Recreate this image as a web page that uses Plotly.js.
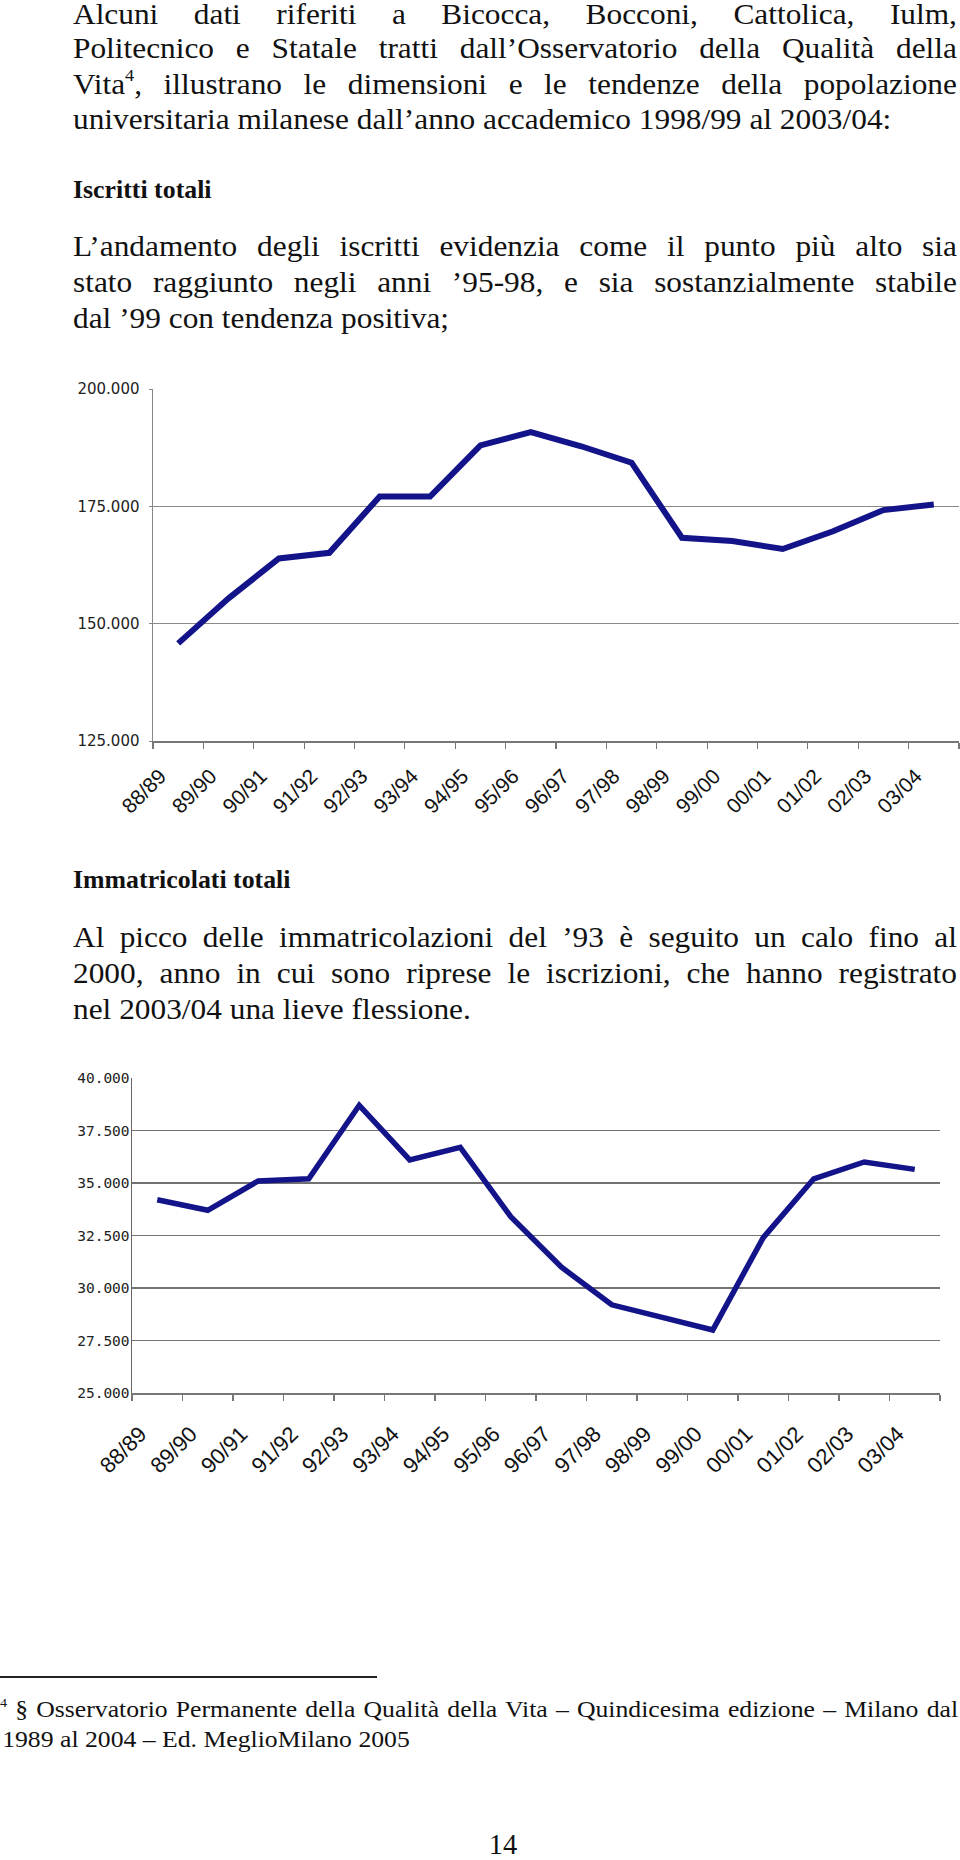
<!DOCTYPE html>
<html>
<head>
<meta charset="utf-8">
<script src="https://cdn.plot.ly/plotly-3.0.1.min.js"></script>
<style>
  html, body { margin: 0; padding: 0; background: #fff; }
  #page { position: relative; width: 960px; height: 1860px; overflow: hidden; background: #fff; }
  .txt { position: absolute; left: 72.5px; font-family: "Liberation Serif", "Times New Roman", serif; color: #111; transform-origin: 0 0; }
  .body { width: 803.6px; font-size: 28.5px; line-height: 35.7px; transform: scaleX(1.1); }
  .ln { height: 35.7px; white-space: nowrap; }
  .j { text-align: justify; text-align-last: justify; white-space: normal; }
  .head { font-size: 24.5px; font-weight: bold; line-height: 35.7px; transform: scaleX(1.055); white-space: nowrap; }
  sup { font-size: 58%; line-height: 0; vertical-align: 0; position: relative; top: -0.75em; }
  #rule { position: absolute; left: 0; top: 1675.7px; width: 377px; height: 2px; background: #222; }
  .foot { position: absolute; left: 0; width: 883px; font-family: "Liberation Serif", "Times New Roman", serif; font-size: 23.7px; line-height: 30px; color: #111; transform: scaleX(1.085); transform-origin: 0 0; }
  #pagenum { position: absolute; left: 463px; width: 80px; text-align: center; top: 1827px; font-family: "Liberation Serif", serif; font-size: 28.5px; line-height: 36px; color: #111; }
  .chart { position: absolute; left: 0; width: 960px; }
</style>
</head>
<body>
<div id="page">
  <div class="txt body" style="top:0px">
    <div class="ln j" style="height:30.9px;line-height:30.9px">Alcuni dati riferiti a Bicocca, Bocconi, Cattolica, Iulm,</div>
    <div class="ln j">Politecnico e Statale tratti dall’Osservatorio della Qualità della</div>
    <div class="ln j">Vita<sup>4</sup>, illustrano le dimensioni e le tendenze della popolazione</div>
    <div class="ln">universitaria milanese dall’anno accademico 1998/99 al 2003/04:</div>
  </div>
  <div class="txt head" style="top:171.9px">Iscritti totali</div>
  <div class="txt body" style="top:229.4px">
    <div class="ln j">L’andamento degli iscritti evidenzia come il punto più alto sia</div>
    <div class="ln j">stato raggiunto negli anni ’95-98, e sia sostanzialmente stabile</div>
    <div class="ln">dal ’99 con tendenza positiva;</div>
  </div>

  <div id="chart1" class="chart" style="top:360px;height:470px"></div>

  <div class="txt head" style="top:862.2px">Immatricolati totali</div>
  <div class="txt body" style="top:920.4px">
    <div class="ln j">Al picco delle immatricolazioni del ’93 è seguito un calo fino al</div>
    <div class="ln j">2000, anno in cui sono riprese le iscrizioni, che hanno registrato</div>
    <div class="ln">nel 2003/04 una lieve flessione.</div>
  </div>

  <div id="chart2" class="chart" style="top:1050px;height:440px"></div>

  <div id="rule"></div>
  <div class="foot" style="top:1693.5px">
    <div class="j" style="height:30px"><sup style="font-size:13px;top:-10px">4</sup> § Osservatorio Permanente della Qualità della Vita – Quindicesima edizione – Milano dal</div>
    <div style="height:30px;white-space:nowrap;padding-left:2px">1989 al 2004 – Ed. MeglioMilano 2005</div>
  </div>
  <div id="pagenum">14</div>
</div>

<script>
// ---- data ----
var categories = ['88/89','89/90','90/91','91/92','92/93','93/94','94/95','95/96','96/97','97/98','98/99','99/00','00/01','01/02','02/03','03/04'];
var iscrittiTotali = [145800, 155400, 163900, 165100, 177100, 177100, 188000, 190800, 187800, 184300, 168300, 167600, 165900, 169700, 174200, 175400];
var immatricolatiTotali = [34200, 33700, 35100, 35200, 38700, 36100, 36700, 33400, 31000, 29200, 28600, 28000, 32400, 35200, 36000, 35650];
var iscrittiTicks = [125000, 150000, 175000, 200000];
var immatricolatiTicks = [25000, 27500, 30000, 32500, 35000, 37500, 40000];

var lineColor = '#14148a';

function xaxisCfg(shift, standoff, fontSize) {
  return {
    type: 'category',
    range: [-0.5, categories.length - 0.5],
    tickson: 'boundaries',
    ticks: 'outside',
    ticklen: 6.5,
    tickwidth: 1.2,
    tickcolor: '#777',
    showline: true,
    linecolor: '#777',
    linewidth: 1.5,
    showgrid: false,
    zeroline: false,
    tickangle: -45,
    ticklabelshift: shift,
    ticklabelstandoff: standoff,
    tickfont: { family: 'Liberation Sans, Arial, sans-serif', size: fontSize, color: '#111' }
  };
}

// ---- chart 1: Iscritti totali ----
Plotly.newPlot('chart1', [{
  x: categories,
  y: iscrittiTotali,
  type: 'scatter',
  mode: 'lines',
  line: { color: lineColor, width: 6 },
  hoverinfo: 'skip'
}], {
  width: 960, height: 470,
  margin: { l: 152.7, r: 1.3, t: 29, b: 89 },
  paper_bgcolor: 'rgba(0,0,0,0)',
  plot_bgcolor: 'rgba(0,0,0,0)',
  separators: ',.',
  showlegend: false,
  xaxis: xaxisCfg(-18, 13, 21),
  yaxis: {
    range: [125000, 200000],
    tickvals: iscrittiTicks,
    tickformat: ',d',
    ticks: 'outside',
    ticklen: 3,
    tickcolor: '#888',
    showline: true,
    linecolor: '#888',
    linewidth: 1.5,
    showgrid: true,
    gridcolor: '#8a8a8a',
    gridwidth: 1.5,
    zeroline: false,
    ticklabelstandoff: 6,
    tickfont: { family: 'DejaVu Sans, sans-serif', size: 15, color: '#222' }
  }
}, { staticPlot: true, displayModeBar: false });

// ---- chart 2: Immatricolati totali ----
Plotly.newPlot('chart2', [{
  x: categories,
  y: immatricolatiTotali,
  type: 'scatter',
  mode: 'lines',
  line: { color: lineColor, width: 5.5 },
  hoverinfo: 'skip'
}], {
  width: 960, height: 440,
  margin: { l: 131.7, r: 19.5, t: 27.5, b: 96.5 },
  paper_bgcolor: 'rgba(0,0,0,0)',
  plot_bgcolor: 'rgba(0,0,0,0)',
  separators: ',.',
  showlegend: false,
  xaxis: xaxisCfg(-17, 18, 22),
  yaxis: {
    range: [25000, 40000],
    tickvals: immatricolatiTicks,
    tickformat: ',d',
    ticks: '',
    showline: true,
    linecolor: '#666',
    linewidth: 1.5,
    showgrid: true,
    gridcolor: '#727272',
    gridwidth: 1.5,
    zeroline: false,
    ticklabelstandoff: -2,
    tickfont: { family: 'DejaVu Sans Mono, monospace', size: 14.5, color: '#222' }
  }
}, { staticPlot: true, displayModeBar: false });
</script>
</body>
</html>
